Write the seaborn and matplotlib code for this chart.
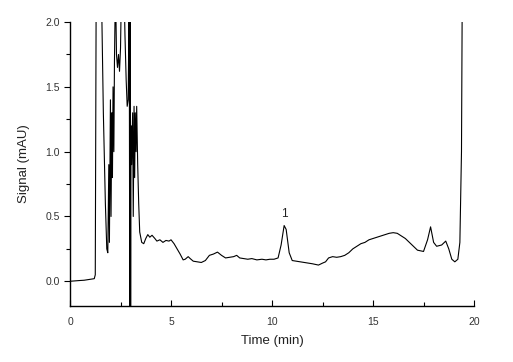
import numpy as np
import pandas as pd
import matplotlib
matplotlib.use('Agg')
import matplotlib.pyplot as plt
import seaborn as sns
from matplotlib.ticker import MultipleLocator, FormatStrFormatter

# chromatogram trace (time in min, signal in mAU)
time = [0.0, 0.3, 0.5, 0.7, 1.0, 1.2, 1.25, 1.3,
        1.55, 1.65, 1.75, 1.82, 1.87, 1.92, 1.95, 2.0, 2.03, 2.07, 2.1, 2.13,
        2.17, 2.2, 2.25, 2.3, 2.35, 2.4, 2.45, 2.5, 2.55, 2.62, 2.67, 2.72,
        2.78, 2.83, 2.88, 2.93, 2.96, 2.98, 3.0, 3.02, 3.05, 3.1, 3.13, 3.17,
        3.2, 3.23, 3.27, 3.3, 3.35, 3.4, 3.45, 3.55, 3.65, 3.75, 3.85, 3.95,
        4.06, 4.2, 4.3, 4.45, 4.6, 4.75, 4.9, 5.0, 5.15, 5.3, 5.45, 5.6, 5.7,
        5.85, 5.95, 6.1, 6.3, 6.5, 6.7, 6.9, 7.1, 7.3, 7.5, 7.7, 7.9, 8.1,
        8.25, 8.4, 8.6, 8.8, 9.0, 9.25, 9.5, 9.7, 9.9, 10.1, 10.3, 10.45,
        10.6, 10.7, 10.85, 11.0, 11.2, 11.4, 11.6, 11.8, 12.0, 12.3, 12.5,
        12.65, 12.8, 13.0, 13.2, 13.4, 13.6, 13.8, 14.0, 14.2, 14.4, 14.6,
        14.8, 15.0, 15.2, 15.4, 15.6, 15.8, 16.0, 16.2, 16.4, 16.6, 16.8,
        17.0, 17.2, 17.5, 17.7, 17.85, 18.0, 18.15, 18.4, 18.6, 18.75, 18.9,
        19.05, 19.2, 19.3, 19.38, 19.42]
signal = [0.0, 0.004, 0.006, 0.008, 0.015, 0.02, 0.05, 2.5,
          2.3, 1.3, 0.6, 0.25, 0.22, 0.9, 0.3, 1.4, 0.5, 1.3, 0.8, 1.5,
          1.0, 1.7, 2.3, 1.75, 1.65, 1.75, 1.62, 1.8, 2.3, 2.1, 2.3, 1.9,
          1.55, 1.35, 1.4, 2.3, -0.5, 2.3, -0.5, 1.2, 0.9, 1.3, 0.5, 1.35,
          0.8, 1.3, 1.0, 1.35, 0.9, 0.6, 0.38, 0.30, 0.29, 0.33, 0.36, 0.34,
          0.355, 0.33, 0.31, 0.32, 0.30, 0.315, 0.31, 0.32, 0.29, 0.25, 0.21,
          0.165, 0.17, 0.19, 0.175, 0.155, 0.15, 0.145, 0.16, 0.2, 0.21, 0.225,
          0.2, 0.18, 0.185, 0.19, 0.2, 0.18, 0.175, 0.17, 0.175, 0.165, 0.17,
          0.165, 0.17, 0.17, 0.18, 0.28, 0.43, 0.40, 0.22, 0.16, 0.155, 0.15,
          0.145, 0.14, 0.135, 0.125, 0.14, 0.15, 0.18, 0.19, 0.185, 0.19, 0.2,
          0.22, 0.25, 0.27, 0.29, 0.3, 0.32, 0.33, 0.34, 0.35, 0.36, 0.37,
          0.375, 0.37, 0.35, 0.33, 0.3, 0.27, 0.24, 0.23, 0.32, 0.42, 0.30,
          0.27, 0.28, 0.31, 0.25, 0.17, 0.15, 0.17, 0.3, 1.0, 2.3]

peak_labels = ['1']
peak_times = [10.6]
peak_heights = [0.47]

df = pd.DataFrame({'time': time, 'signal': signal})

sns.set_style('ticks')
plt.rcParams['font.family'] = ['Liberation Sans', 'DejaVu Sans']

fig = plt.figure(figsize=(5.13, 3.62), dpi=100)
ax = fig.add_axes([0.1365, 0.155, 0.7875, 0.784])

sns.lineplot(data=df, x='time', y='signal', sort=False, color='black',
             linewidth=0.8, ax=ax)

for lab, t, h in zip(peak_labels, peak_times, peak_heights):
    ax.text(t, h, lab, ha='center', va='bottom', fontsize=8.5, color='#222222')

ax.set_xlim(0, 20)
ax.set_ylim(-0.19, 2.0)
ax.xaxis.set_major_locator(MultipleLocator(5))
ax.xaxis.set_minor_locator(MultipleLocator(2.5))
ax.yaxis.set_major_locator(MultipleLocator(0.5))
ax.yaxis.set_minor_locator(MultipleLocator(0.25))
ax.yaxis.set_major_formatter(FormatStrFormatter('%.1f'))

ax.tick_params(axis='x', which='both', direction='in', labelsize=7.5,
               colors='black', labelcolor='#333333', pad=8)
ax.tick_params(axis='x', which='major', length=4, width=0.8)
ax.tick_params(axis='x', which='minor', length=3, width=0.8)
ax.tick_params(axis='y', which='both', direction='out', labelsize=7.5,
               colors='black', labelcolor='#333333')
ax.tick_params(axis='y', which='major', length=4, width=0.8)
ax.tick_params(axis='y', which='minor', length=3, width=0.8)

sns.despine(ax=ax)
for s in ['left', 'bottom']:
    ax.spines[s].set_linewidth(1.0)
    ax.spines[s].set_color('black')

ax.set_xlabel('Time (min)', fontsize=9.5, color='#222222', labelpad=6)
ax.set_ylabel('Signal (mAU)', fontsize=9.5, color='#222222', labelpad=11)

fig.savefig('out.png', dpi=100)
